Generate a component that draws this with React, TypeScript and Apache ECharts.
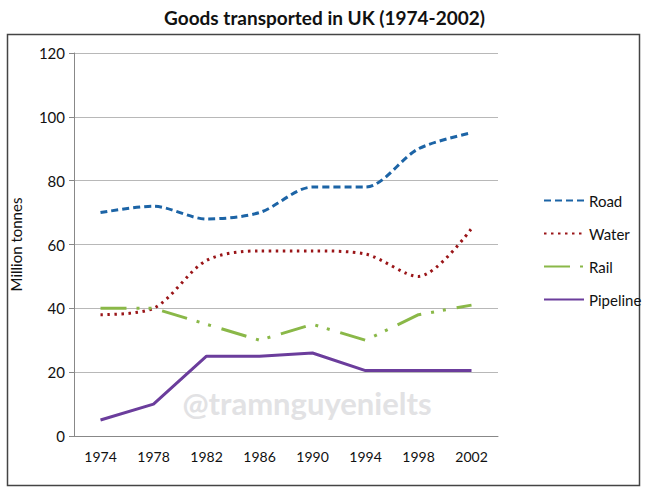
import React, { useEffect, useRef } from "react";
import * as echarts from "echarts";

const years = ["1974", "1978", "1982", "1986", "1990", "1994", "1998", "2002"];
const road = [70, 72, 68, 70, 78, 78, 90, 95];
const water = [38, 40, 55, 58, 58, 57, 50, 65];
const rail = [40, 40, 35, 30, 35, 30, 38, 41];
const pipeline = [5, 10, 25, 25, 26, 20.5, 20.5, 20.5];

const FONT = "Lato, 'Open Sans', sans-serif";

export default function App() {
  const ref = useRef<HTMLDivElement>(null);
  useEffect(() => {
    if (!ref.current) return;
    const chart = echarts.init(ref.current, undefined, { renderer: "svg" });
    chart.setOption({
      animation: false,
      backgroundColor: "#ffffff",
      textStyle: { fontFamily: FONT },
      title: {
        text: "Goods transported in UK (1974-2002)",
        left: "center",
        top: 3,
        textStyle: { fontFamily: FONT, fontWeight: "bold", fontSize: 19, color: "#111" },
      },
      graphic: [
        {
          type: "rect",
          shape: { x: 7.5, y: 34.5, width: 632, height: 451 },
          style: { fill: "none", stroke: "#444", lineWidth: 1.5 },
          z: -1,
        },
        {
          type: "text",
          x: 307,
          y: 403,
          style: {
            text: "@tramnguyenielts",
            fontFamily: FONT,
            fontWeight: "bold",
            fontSize: 31,
            fill: "#e2e2e4",
            textAlign: "center",
            textVerticalAlign: "middle",
          },
          z: 0,
        },
      ],
      legend: {
        orient: "vertical",
        left: 538,
        top: 188,
        itemWidth: 40,
        itemHeight: 14,
        itemGap: 18,
        itemStyle: { opacity: 0, borderWidth: 0 },
        textStyle: { fontFamily: FONT, fontSize: 15, color: "#111" },
        data: ["Road", "Water", "Rail", "Pipeline"],
      },
      grid: { left: 72, top: 53, right: 151, bottom: 56 },
      xAxis: {
        type: "category",
        data: years,
        boundaryGap: true,
        axisLine: { lineStyle: { color: "#888", width: 1 } },
        axisTick: { alignWithLabel: true, length: 5, lineStyle: { color: "#888" } },
        axisLabel: { fontFamily: FONT, fontSize: 14, color: "#111", margin: 13 },
      },
      yAxis: {
        type: "value",
        min: 0,
        max: 120,
        interval: 20,
        name: "Million tonnes",
        nameLocation: "middle",
        nameGap: 51,
        nameTextStyle: { fontFamily: FONT, fontSize: 15, color: "#111" },
        axisLine: { show: true, lineStyle: { color: "#888", width: 1 } },
        axisTick: { show: true, length: 5, lineStyle: { color: "#888" } },
        axisLabel: { fontFamily: FONT, fontSize: 15, color: "#111", margin: 9 },
        splitLine: { lineStyle: { color: "#b8b8b8", width: 1.2 } },
      },
      series: [
        {
          name: "Road",
          type: "line",
          data: road,
          smooth: 0.3,
          symbol: "none",
          lineStyle: { color: "#1c64a6", width: 3, type: [7, 4] },
          itemStyle: { color: "#1c64a6" },
        },
        {
          name: "Water",
          type: "line",
          data: water,
          smooth: 0.3,
          symbol: "none",
          lineStyle: { color: "#9a1518", width: 3, type: [2.5, 4.5] },
          itemStyle: { color: "#9a1518" },
        },
        {
          name: "Rail",
          type: "line",
          data: rail,
          symbol: "none",
          lineStyle: { color: "#8ab848", width: 3, type: [26, 10, 3, 9, 3, 11] },
          itemStyle: { color: "#8ab848" },
        },
        {
          name: "Pipeline",
          type: "line",
          data: pipeline,
          symbol: "none",
          lineStyle: { color: "#6b3d9c", width: 3 },
          itemStyle: { color: "#6b3d9c" },
        },
      ],
    });
    return () => chart.dispose();
  }, []);
  return <div ref={ref} style={{ width: 649, height: 492, position: "absolute", left: 0, top: 0 }} />;
}
